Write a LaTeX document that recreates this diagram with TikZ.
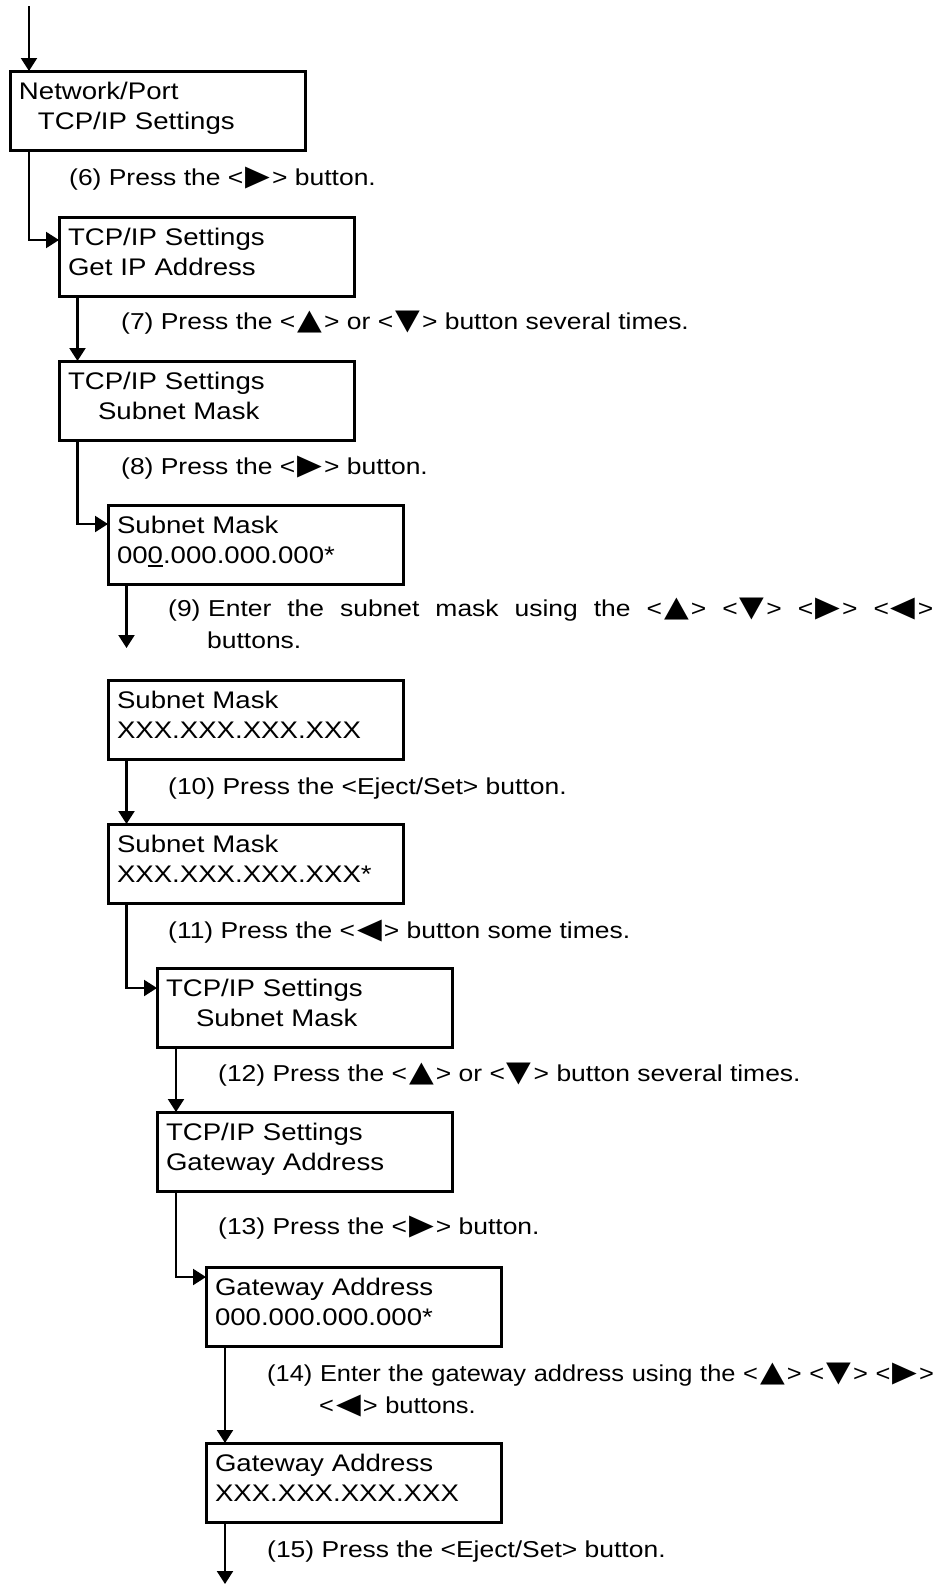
\documentclass[tikz,border=0pt]{standalone}
\usepackage{fontspec}
\setmainfont{Liberation Sans}
\newfontfamily\panelfam[FakeStretch=1.15]{Liberation Sans}
\newfontfamily\narrowfam[FakeStretch=1.105]{Liberation Sans}
\newfontfamily\trifam[Scale=1.25,FakeStretch=1.12]{DejaVu Sans}
\usetikzlibrary{arrows.meta}
\newcommand\boxfont{\panelfam\fontsize{24}{30.5}\selectfont}
\newcommand\notefont{\panelfam\fontsize{23}{32.5}\selectfont}
\newcommand\narrowfont{\narrowfam\fontsize{23}{32.5}\selectfont}
\newcommand\twoline[2]{\rule{0pt}{28pt}#1\\#2\rule[-20.5pt]{0pt}{20.5pt}}
\newcommand\ulzero{\setbox0\hbox{0}\rlap{\rule[-3.5pt]{\wd0}{2pt}}\box0}
\newcommand\tri[1]{\kern2pt{\trifam #1}\kern2pt}
\newcommand\tup{\tri{▲}}
\newcommand\tdn{\tri{▼}}
\newcommand\trt{\tri{▶}}
\newcommand\tlt{\tri{◀}}
\tikzset{
  screen/.style={draw,line width=3pt,anchor=north west,outer sep=0pt,inner xsep=9pt,inner ysep=0pt,
    text width=277pt,minimum height=79pt,align=left,font=\boxfont},
  stepnote/.style={anchor=base west,inner sep=0pt,font=\notefont},
  flow/.style={line width=2.2pt,-{Triangle[length=13pt,width=16pt]}}
}
\begin{document}
\begin{tikzpicture}[x=1pt,y=-1pt]
\useasboundingbox (0,0) rectangle (945,1585);
% panel screens
\node[screen] (net) at (10,71) {\twoline{Network/Port}{\hspace*{19pt}TCP/IP Settings}};
\node[screen] (getip) at (59,217) {\twoline{TCP/IP Settings}{Get IP Address}};
\node[screen] (tcpmask) at (59,361) {\twoline{TCP/IP Settings}{\hspace*{30pt}Subnet Mask}};
\node[screen] (maskin) at (108,505) {\twoline{Subnet Mask}{00\ulzero.000.000.000*}};
\node[screen] (maskset) at (108,680) {\twoline{Subnet Mask}{XXX.XXX.XXX.XXX}};
\node[screen] (maskok) at (108,824) {\twoline{Subnet Mask}{XXX.XXX.XXX.XXX*}};
\node[screen] (tcpmask2) at (157,968) {\twoline{TCP/IP Settings}{\hspace*{30pt}Subnet Mask}};
\node[screen] (tcpgw) at (157,1112) {\twoline{TCP/IP Settings}{Gateway Address}};
\node[screen] (gwin) at (206,1267) {\twoline{Gateway Address}{000.000.000.000*}};
\node[screen] (gwset) at (206,1443) {\twoline{Gateway Address}{XXX.XXX.XXX.XXX}};
% steps
\node[stepnote] (s6) at (69,185) {(6) Press the <\trt> button.};
\node[stepnote] (s7) at (121,329) {(7) Press the <\tup> or <\tdn> button several times.};
\node[stepnote] (s8) at (121,474) {(8) Press the <\trt> button.};
\node[stepnote,text width=765pt,align=left] (s9) at (168,616)
  {\hbox to 765pt{(9) Enter\hfill the\hfill subnet\hfill mask\hfill using\hfill the\hfill <\tup>\hfill <\tdn>\hfill <\trt>\hfill <\tlt>}\\\hspace*{39pt}buttons.};
\node[stepnote] (s10) at (168,794) {(10) Press the <Eject/Set> button.};
\node[stepnote] (s11) at (168,938) {(11) Press the <\tlt> button some times.};
\node[stepnote] (s12) at (218,1081) {(12) Press the <\tup> or <\tdn> button several times.};
\node[stepnote] (s13) at (218,1234) {(13) Press the <\trt> button.};
\node[stepnote,text width=680pt,align=left,font=\narrowfont] (s14) at (267,1381)
  {(14) Enter the gateway address using the <\tup> <\tdn> <\trt>\\\hspace*{52pt}<\tlt> buttons.};
\node[stepnote] (s15) at (267,1557) {(15) Press the <Eject/Set> button.};
% connectors
\coordinate (start) at (29,6);
\coordinate (maskend) at (126.5,648);
\coordinate (finish) at (225,1584);
\draw[flow] (start) -- (start |- net.north);
\draw[flow] ([xshift=19pt]net.south west) |- ([yshift=-23pt]getip.north west);
\draw[flow] ([xshift=18.5pt]getip.south west) -- ([xshift=18.5pt]tcpmask.north west);
\draw[flow] ([xshift=18.5pt]tcpmask.south west) |- ([yshift=-19pt]maskin.north west);
\draw[flow] ([xshift=18.5pt]maskin.south west) -- (maskend);
\draw[flow] ([xshift=18.5pt]maskset.south west) -- ([xshift=18.5pt]maskok.north west);
\draw[flow] ([xshift=18.5pt]maskok.south west) |- ([yshift=-20pt]tcpmask2.north west);
\draw[flow] ([xshift=19pt]tcpmask2.south west) -- ([xshift=19pt]tcpgw.north west);
\draw[flow] ([xshift=19pt]tcpgw.south west) |- ([yshift=-10pt]gwin.north west);
\draw[flow] ([xshift=19pt]gwin.south west) -- ([xshift=19pt]gwset.north west);
\draw[flow] ([xshift=19pt]gwset.south west) -- (finish);
\end{tikzpicture}
\end{document}
